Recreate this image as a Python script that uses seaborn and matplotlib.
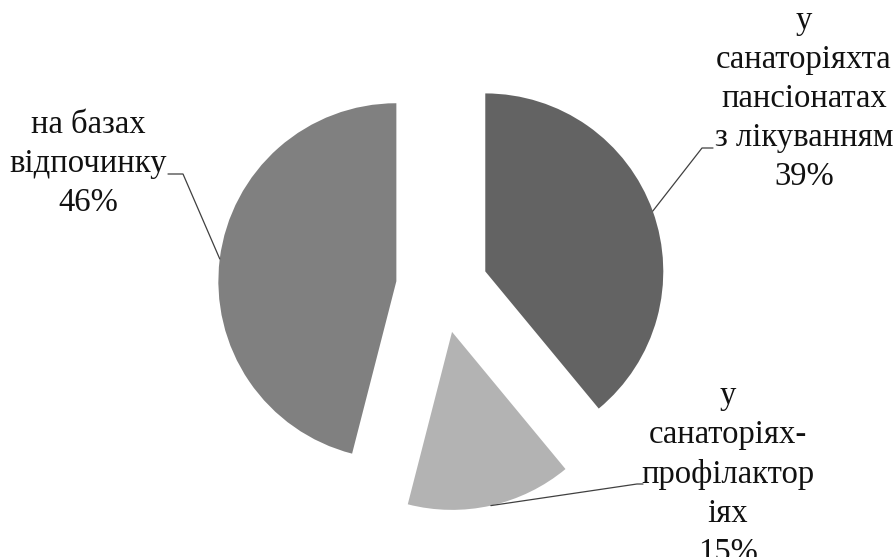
import numpy as np
import matplotlib
matplotlib.use("Agg")
import matplotlib.pyplot as plt
import seaborn as sns

# ==========================================================
# DATA
# ==========================================================

categories = [
    "у\nсанаторіяхта\nпансіонатах\nз лікуванням",
    "у\nсанаторіях-\nпрофілактор\nіях",
    "на базах\nвідпочинку",
]
shares = [39, 15, 46]
slice_colors = ["#636363", "#b3b3b3", "#808080"]

# label layout (pixel coords, y up): elbow, line end, text centre
label_elbow = [(702, 409), (637, 73), (183, 383)]
label_end = [(713, 409), (643, 73), (168, 383)]
label_text = [(804, 458), (728, 83), (88, 393)]

# ==========================================================
# FIGURE
# ==========================================================

W, H = 895, 557
sns.set_theme(style="white")
plt.rcParams["font.family"] = ["Liberation Serif", "DejaVu Serif"]

fig = plt.figure(figsize=(W / 100, H / 100), dpi=100)
ax = fig.add_axes([0, 0, 1, 1])

# explode is in data units here (pixels), radius 178 px
wedges, _ = ax.pie(
    shares,
    colors=slice_colors,
    startangle=90,
    counterclock=False,
    explode=[46] * len(shares),
    radius=178,
    center=(442, H - 287),
    frame=True,
    wedgeprops={"linewidth": 0, "edgecolor": "none"},
)

ax.set_xlim(0, W)
ax.set_ylim(0, H)
ax.set_aspect("equal")
ax.axis("off")

# ==========================================================
# LABELS WITH LEADER LINES
# ==========================================================

for i, w in enumerate(wedges):
    mid = np.deg2rad((w.theta1 + w.theta2) / 2)
    cx, cy = w.center
    sx = cx + w.r * np.cos(mid)
    sy = cy + w.r * np.sin(mid)
    ex, ey = label_elbow[i]
    fx, fy = label_end[i]
    ax.plot([sx, ex, fx], [sy, ey, fy], color="#404040", lw=0.9)
    tx, ty = label_text[i]
    ax.text(
        tx, ty,
        f"{categories[i]}\n{shares[i]}%",
        ha="center", va="center",
        fontsize=23.5, linespacing=1.36, color="#111111",
    )

plt.savefig("out.png", dpi=100)
